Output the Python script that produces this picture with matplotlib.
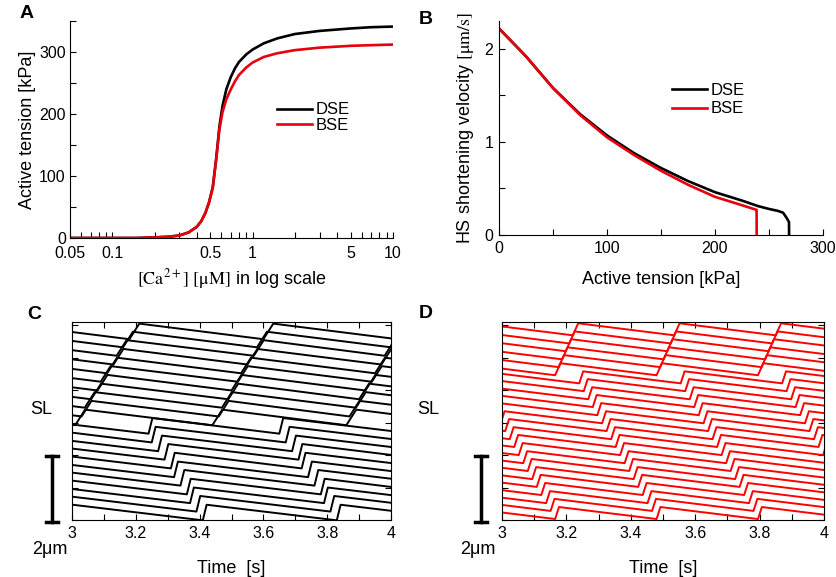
import matplotlib
matplotlib.use('Agg')
import matplotlib.pyplot as plt
from matplotlib.lines import Line2D
from matplotlib.ticker import FixedLocator, FixedFormatter, MultipleLocator, NullFormatter

plt.rcParams['font.family'] = ['Liberation Sans', 'DejaVu Sans']
plt.rcParams['mathtext.fontset'] = 'stix'

# ---------------- data ----------------
# A: tension-pCa
ca_um = [0.05, 0.1, 0.15, 0.2, 0.25, 0.3, 0.35, 0.4, 0.43, 0.46, 0.49, 0.52, 0.55,
         0.58, 0.61, 0.65, 0.7, 0.75, 0.8, 0.9, 1.0, 1.2, 1.5, 2, 3, 5, 7, 10]
tension_dse = [0, 0, 0, 1, 2, 4, 9, 18, 27, 40, 58, 82, 128,
               180, 213, 240, 260, 274, 284, 296, 304, 314, 322, 329, 334, 338, 340, 341]
tension_bse = [0, 0, 0, 1, 2, 4, 9, 18, 27, 40, 58, 81, 126,
               175, 203, 224, 240, 253, 263, 275, 283, 292, 298, 303, 307, 310, 311, 312]

# B: force-velocity
fv_t_dse = [0, 10, 25, 50, 75, 100, 125, 150, 175, 200, 225, 240, 250, 258, 263, 266, 268.5, 268.6]
fv_v_dse = [2.22, 2.10, 1.92, 1.58, 1.30, 1.07, 0.88, 0.72, 0.58, 0.46, 0.37, 0.31, 0.28, 0.26, 0.24, 0.19, 0.14, 0.0]
fv_t_bse = [0, 10, 25, 50, 75, 100, 125, 150, 175, 200, 225, 238.5, 238.6]
fv_v_bse = [2.22, 2.10, 1.92, 1.58, 1.29, 1.05, 0.86, 0.69, 0.54, 0.41, 0.32, 0.27, 0.0]

# C: SL traces (DSE), level after each lengthening jump [um], jump times [s]
C_level = [6.05, 5.80, 5.54, 5.27, 5.00, 4.74, 4.47, 4.20, 3.94, 3.67, 3.40,
           3.14, 2.87, 2.60, 2.34, 2.07, 1.80, 1.54, 1.27, 1.00, 0.74, 0.47]
C_drop = 0.48
C_jumps = [
    [2.76, 3.18, 3.60, 4.02, 4.44],
    [2.74, 3.16, 3.58, 4.00, 4.43],
    [2.72, 3.14, 3.57, 3.98, 4.41],
    [2.71, 3.13, 3.55, 3.97, 4.40],
    [2.69, 3.11, 3.53, 3.95, 4.38],
    [2.67, 3.09, 3.52, 3.94, 4.36],
    [2.66, 3.08, 3.50, 3.92, 4.35],
    [2.64, 3.06, 3.49, 3.90, 4.33],
    [2.62, 3.04, 3.47, 3.89, 4.31],
    [2.61, 3.03, 3.46, 3.87, 4.30],
    [2.59, 3.01, 3.44, 3.86, 4.28],
    [2.82, 3.24, 3.65, 4.07],
    [2.84, 3.25, 3.67, 4.09],
    [2.85, 3.27, 3.69, 4.11],
    [2.87, 3.29, 3.71, 4.12],
    [2.89, 3.31, 3.72, 4.14],
    [2.90, 3.32, 3.74, 4.16],
    [2.92, 3.34, 3.76, 4.18],
    [2.94, 3.36, 3.78, 4.19],
    [2.95, 3.37, 3.79, 4.21],
    [2.97, 3.39, 3.81, 4.23],
    [2.99, 3.41, 3.83, 4.25],
]
C_fast = 11  # first 11 traces: fast upward wave

# D: SL traces (BSE)
D_level = [6.06, 5.81, 5.57, 5.32, 5.08, 4.83, 4.58, 4.34, 4.09, 3.85, 3.60, 3.35,
           3.11, 2.86, 2.62, 2.37, 2.12, 1.88, 1.63, 1.39, 1.14, 0.89, 0.65, 0.40]
D_drop = 0.37
D_jumps = [
    [2.905, 3.220, 3.535, 3.850, 4.165],
    [2.894, 3.209, 3.524, 3.839, 4.154],
    [2.883, 3.198, 3.513, 3.828, 4.143],
    [2.872, 3.187, 3.502, 3.817, 4.132],
    [2.861, 3.176, 3.491, 3.806, 4.121],
    [2.850, 3.165, 3.480, 3.795, 4.110],
    [2.610, 2.925, 3.240, 3.555, 3.870, 4.185],
    [2.624, 2.939, 3.254, 3.569, 3.884, 4.199],
    [2.638, 2.953, 3.268, 3.583, 3.898, 4.213],
    [2.652, 2.967, 3.282, 3.597, 3.912, 4.227],
    [2.666, 2.981, 3.296, 3.611, 3.926, 4.241],
    [2.681, 2.996, 3.311, 3.626, 3.941, 4.256],
    [2.695, 3.010, 3.325, 3.640, 3.955, 4.270],
    [2.709, 3.024, 3.339, 3.654, 3.969, 4.284],
    [2.723, 3.038, 3.353, 3.668, 3.983, 4.298],
    [2.737, 3.052, 3.367, 3.682, 3.997, 4.312],
    [2.751, 3.066, 3.381, 3.696, 4.011, 4.326],
    [2.765, 3.080, 3.395, 3.710, 4.025, 4.340],
    [2.779, 3.094, 3.409, 3.724, 4.039, 4.354],
    [2.793, 3.108, 3.423, 3.738, 4.053, 4.368],
    [2.807, 3.122, 3.437, 3.752, 4.067, 4.382],
    [2.822, 3.137, 3.452, 3.767, 4.082, 4.397],
    [2.836, 3.151, 3.466, 3.781, 4.096, 4.411],
    [2.850, 3.165, 3.480, 3.795, 4.110, 4.425],
]
D_fast = 6

W, H = 836, 577
fig = plt.figure(figsize=(W / 100, H / 100), dpi=100)


def box(l, t, r, b):
    return [l / W, 1 - b / H, (r - l) / W, (b - t) / H]


def trace_xy(jumps, level, drop, rise):
    t, y = [], []
    for k, tj in enumerate(jumps):
        if k:
            t.append(tj)
            y.append(level - drop)
        t.append(tj + rise)
        y.append(level)
    return t, y


TICK = dict(direction='in', length=4, width=0.8, labelsize=11.5, pad=4)

# ========================================
# A
# ========================================
axA = fig.add_axes(box(70, 21, 393, 238))
axA.plot(ca_um, tension_dse, color='black', lw=1.9, label='DSE')
axA.plot(ca_um, tension_bse, color='#e8000b', lw=1.9, label='BSE')
axA.set_xscale('log')
axA.set_xlim(0.05, 10)
axA.set_ylim(0, 350)
axA.xaxis.set_major_locator(FixedLocator([0.05, 0.1, 0.5, 1, 5, 10]))
axA.xaxis.set_major_formatter(FixedFormatter(['0.05', '0.1', '0.5', '1', '5', '10']))
axA.xaxis.set_minor_locator(FixedLocator([0.06, 0.07, 0.08, 0.09, 0.2, 0.3, 0.4, 0.6, 0.7,
                                          0.8, 0.9, 2, 3, 4, 6, 7, 8, 9]))
axA.xaxis.set_minor_formatter(NullFormatter())
axA.yaxis.set_major_locator(MultipleLocator(100))
axA.yaxis.set_minor_locator(MultipleLocator(50))
axA.tick_params(which='both', **TICK)
axA.tick_params(axis='x', pad=6)
axA.tick_params(axis='y', pad=3)
for s in ['top', 'right']:
    axA.spines[s].set_visible(False)
axA.set_ylabel('Active tension [kPa]', fontsize=13, labelpad=2)
axA.set_xlabel(r'$\mathrm{[Ca^{2+}]\ [μM]}$ in log scale', fontsize=13, labelpad=4)
axA.legend(frameon=False, fontsize=12, loc='upper left', bbox_to_anchor=(0.641, 0.625),
           borderpad=0, borderaxespad=0, handlelength=2.1, handletextpad=0.2,
           labelspacing=0.05)

# ========================================
# B
# ========================================
axB = fig.add_axes(box(499, 21, 823, 235))
axB.plot(fv_t_dse, fv_v_dse, color='black', lw=1.9, label='DSE')
axB.plot(fv_t_bse, fv_v_bse, color='#e8000b', lw=1.9, label='BSE')
axB.set_xlim(0, 300)
axB.set_ylim(0, 2.3)
axB.xaxis.set_major_locator(MultipleLocator(100))
axB.xaxis.set_minor_locator(MultipleLocator(50))
axB.yaxis.set_major_locator(MultipleLocator(1))
axB.yaxis.set_minor_locator(MultipleLocator(0.5))
axB.tick_params(which='both', **TICK)
for s in ['top', 'right']:
    axB.spines[s].set_visible(False)
axB.set_ylabel(r'HS shortening velocity $\mathrm{[μm/s]}$', fontsize=13, labelpad=6)
axB.set_xlabel('Active tension [kPa]', fontsize=13, labelpad=11)
axB.legend(frameon=False, fontsize=12, loc='upper left', bbox_to_anchor=(0.534, 0.71),
           borderpad=0, borderaxespad=0, handlelength=2.1, handletextpad=0.2,
           labelspacing=0.2)

# ========================================
# C, D: SL traces
# ========================================
def sl_panel(rect, levels, jumps, drop, n_fast, rise_fast, rise_slow, color):
    ax = fig.add_axes(rect)
    for i, (lev, jt) in enumerate(zip(levels, jumps)):
        rise = rise_fast if i < n_fast else rise_slow
        t, y = trace_xy(jt, lev, drop, rise)
        ax.plot(t, y, color=color, lw=1.4)
    ax.set_xlim(3, 4)
    ax.set_ylim(0, 6.1)
    ax.xaxis.set_major_locator(FixedLocator([3, 3.2, 3.4, 3.6, 3.8, 4]))
    ax.xaxis.set_major_formatter(FixedFormatter(['3', '3.2', '3.4', '3.6', '3.8', '4']))
    ax.xaxis.set_minor_locator(FixedLocator([3.1, 3.3, 3.5, 3.7, 3.9]))
    ax.yaxis.set_major_locator(MultipleLocator(1))
    ax.yaxis.set_major_formatter(NullFormatter())
    ax.tick_params(which='both', top=True, right=True, **TICK)
    ax.set_xlabel('Time  [s]', fontsize=13, labelpad=14)
    return ax


axC = sl_panel(box(72, 322, 391, 520), C_level, C_jumps, C_drop, C_fast, 0.031, 0.012, 'black')
axD = sl_panel(box(502, 322, 824, 520), D_level, D_jumps, D_drop, D_fast, 0.0165, 0.012, '#ff0000')

# scale bars (2 um) and labels
for xb in (52, 481):
    fig.add_artist(Line2D([xb / W, xb / W], [1 - 456 / H, 1 - 522 / H],
                          transform=fig.transFigure, color='black', lw=2.5))
    for yb in (456, 522):
        fig.add_artist(Line2D([(xb - 6) / W, (xb + 6) / W], [1 - yb / H, 1 - yb / H],
                              transform=fig.transFigure, color='black', lw=2.5))

fig.text(50 / W, 1 - 550 / H, '2μm', fontsize=13, ha='center', va='center')
fig.text(478 / W, 1 - 550 / H, '2μm', fontsize=13, ha='center', va='center')
fig.text(41 / W, 1 - 409 / H, 'SL', fontsize=13, ha='center', va='center')
fig.text(428 / W, 1 - 409 / H, 'SL', fontsize=13, ha='center', va='center')

# panel letters
for letter, (x, y) in zip('ABCD', [(27, 14), (426, 19), (34, 315), (426, 314)]):
    fig.text(x / W, 1 - y / H, letter, fontsize=14, fontweight='bold', ha='center', va='center')

fig.savefig('out.png', dpi=100)
